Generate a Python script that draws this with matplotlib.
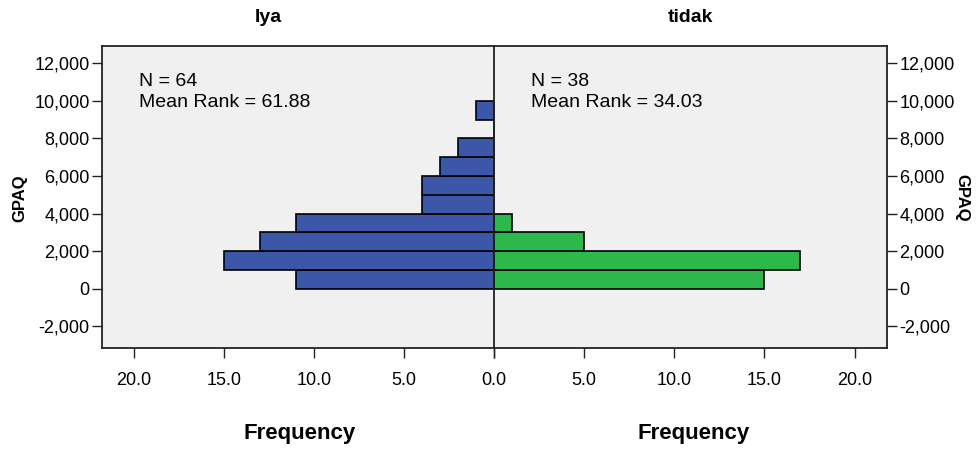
import numpy as np
import matplotlib
matplotlib.use("Agg")
import matplotlib.pyplot as plt

# data (bins of 1000 GPAQ)
bin_starts = [0, 1000, 2000, 3000, 4000, 5000, 6000, 7000, 8000, 9000]
freq_iya = [11, 15, 13, 11, 4, 4, 3, 2, 0, 1]
freq_tidak = [15, 17, 5, 1, 0, 0, 0, 0, 0, 0]
group_names = ["Iya", "tidak"]
notes = ["N = 64\nMean Rank = 61.88", "N = 38\nMean Rank = 34.03"]
x_ticks = [0, 5, 10, 15, 20]
y_ticks = [-2000, 0, 2000, 4000, 6000, 8000, 10000, 12000]

font = "Liberation Sans"
blue = "#3C56A8"
green = "#2DB84B"
bg = "#F0F0F0"
line_col = "#222222"

fig = plt.figure(figsize=(9.8, 4.5), dpi=100)
ax_l = fig.add_axes([102 / 980, 1 - 348 / 450, 392 / 980, 302 / 450])
ax_r = fig.add_axes([494 / 980, 1 - 348 / 450, 393 / 980, 302 / 450], sharey=ax_l)

for ax, freq, color in [(ax_l, freq_iya, blue), (ax_r, freq_tidak, green)]:
    ax.set_facecolor(bg)
    ax.barh(bin_starts, freq, height=1000, align="edge", color=color,
            edgecolor="black", linewidth=1.2, zorder=2)
    ax.set_xticks(x_ticks)
    ax.tick_params(axis="x", length=7, width=1, color=line_col, pad=10)
    for s in ax.spines.values():
        s.set_linewidth(1.3)
        s.set_color(line_col)

# only one "0.0" at the shared centre
ax_l.set_xticklabels(["%.1f" % v for v in x_ticks], fontfamily=font, fontsize=13)
ax_r.set_xticklabels(["" if v == 0 else "%.1f" % v for v in x_ticks],
                     fontfamily=font, fontsize=13)

ax_l.set_xlim(21.75, 0)
ax_r.set_xlim(0, 21.8)
ax_l.set_ylim(-3160, 12920)
ax_l.set_yticks(y_ticks)

def fmt(v):
    return "{:,}".format(v)

ax_l.set_yticklabels([fmt(v) for v in y_ticks], fontfamily=font, fontsize=13)
ax_l.tick_params(axis="y", length=7, width=1, color=line_col, pad=2)
ax_r.yaxis.tick_right()
ax_r.tick_params(axis="y", which="both", left=False, right=True, labelleft=False,
                 labelright=True, length=7, width=1, color=line_col, pad=2)
for lab in ax_r.get_yticklabels():
    lab.set_fontfamily(font)
    lab.set_fontsize(13)

ax_l.spines["right"].set_visible(False)

ax_l.text(0.095, 0.91, notes[0], transform=ax_l.transAxes, va="top", ha="left",
          fontfamily=font, fontsize=14, linespacing=1.3)
ax_r.text(0.095, 0.91, notes[1], transform=ax_r.transAxes, va="top", ha="left",
          fontfamily=font, fontsize=14, linespacing=1.3)

fig.text(268 / 980, 1 - 17 / 450, group_names[0], ha="center", va="center",
         fontfamily=font, fontweight="bold", fontsize=14)
fig.text(690 / 980, 1 - 17 / 450, group_names[1], ha="center", va="center",
         fontfamily=font, fontweight="bold", fontsize=14)
fig.text(300 / 980, 1 - 433 / 450, "Frequency", ha="center", va="center",
         fontfamily=font, fontweight="bold", fontsize=16)
fig.text(694 / 980, 1 - 433 / 450, "Frequency", ha="center", va="center",
         fontfamily=font, fontweight="bold", fontsize=16)
fig.text(20 / 980, 1 - 198 / 450, "GPAQ", rotation=90, ha="center", va="center",
         fontfamily=font, fontweight="bold", fontsize=12)
fig.text(962 / 980, 1 - 198 / 450, "GPAQ", rotation=270, ha="center", va="center",
         fontfamily=font, fontweight="bold", fontsize=12)

fig.savefig("out.png", dpi=100, facecolor="white")
